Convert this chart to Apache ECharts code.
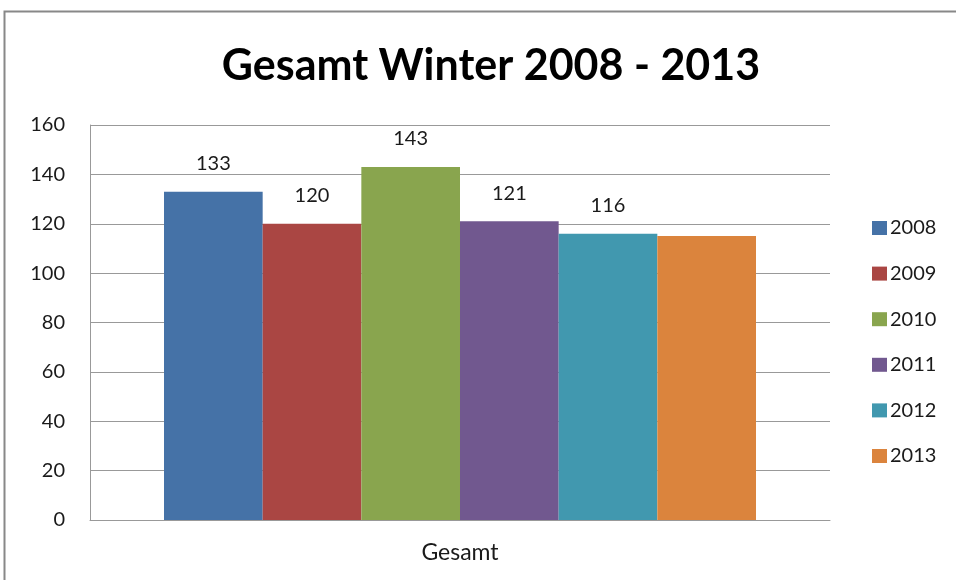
<!DOCTYPE html>
<html><head><meta charset="utf-8">
<script src="https://cdn.jsdelivr.net/npm/echarts@6/dist/echarts.min.js"></script>
<style>html,body{margin:0;padding:0;background:#fff}#c{width:956px;height:580px}</style>
</head><body><div id="c"></div>
<script>
const categories = ['Gesamt'];
const seriesNames = ['2008','2009','2010','2011','2012','2013'];
const seriesValues = [[133],[120],[143],[121],[116],[115]];
const showLabel = [true,true,true,true,true,false];
const colors = ['#4572A7','#AA4643','#89A54E','#71588F','#4198AF','#DB843D'];
const yTicks = {min:0, max:160, interval:20};

const font = 'Lato, "Open Sans", sans-serif';
const chart = echarts.init(document.getElementById('c'), null, {renderer:'canvas'});
chart.setOption({
  animation:false,
  title:{text:'Gesamt Winter 2008 - 2013', left:486, top:40, textAlign:'center',
    textStyle:{fontFamily:font, fontWeight:'bold', fontSize:43, color:'#000'}},
  graphic:[{type:'rect', shape:{x:4.5,y:11.5,width:1000,height:1000}, style:{fill:null, stroke:'#888', lineWidth:2}, silent:true}],
  legend:{orient:'vertical', left:867, top:213, itemWidth:15, itemHeight:14, itemGap:25.6,
    icon:'rect', textStyle:{fontFamily:font, fontSize:20, lineHeight:20, color:'#1a1a1a', padding:[0,0,0,-2]},
    data:seriesNames},
  grid:{left:90, right:126, top:125, bottom:60},
  xAxis:{type:'category', data:categories,
    axisLine:{lineStyle:{color:'#999'}}, axisTick:{show:false},
    axisLabel:{fontFamily:font, fontSize:23, color:'#1a1a1a', margin:21}},
  yAxis:{type:'value', min:yTicks.min, max:yTicks.max, interval:yTicks.interval,
    axisLine:{show:true, lineStyle:{color:'#999'}}, axisTick:{show:false},
    splitLine:{lineStyle:{color:'#999'}},
    axisLabel:{fontFamily:font, fontSize:20, color:'#1a1a1a', margin:25}},
  series: seriesNames.map((n,i)=>({
    name:n, type:'bar', data:seriesValues[i], barGap:'0%', barCategoryGap:'20%',
    itemStyle:{color:colors[i]},
    label:{show:showLabel[i], position:'top', distance:18, fontFamily:font, fontSize:20, color:'#1a1a1a'}
  }))
});
</script></body></html>
